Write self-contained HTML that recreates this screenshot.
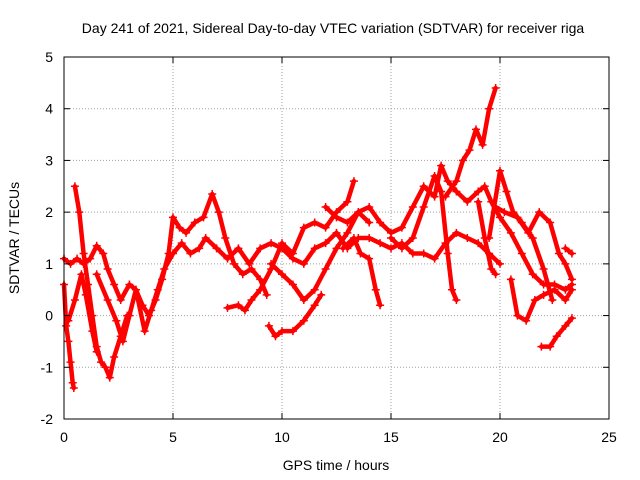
<!DOCTYPE html>
<html><head><meta charset="utf-8"><style>
body{margin:0;background:#fff;}
svg{display:block;font-family:"Liberation Sans",sans-serif;}
</style></head><body>
<svg id="chart" width="640" height="480" viewBox="0 0 640 480">
<text x="333" y="33" text-anchor="middle" font-size="14">Day 241 of 2021, Sidereal Day-to-day VTEC variation (SDTVAR) for receiver riga</text>
<text transform="translate(19,238) rotate(-90)" text-anchor="middle" font-size="14">SDTVAR / TECUs</text>
<text x="336" y="470" text-anchor="middle" font-size="14">GPS time / hours</text>
<g id="grid"></g>
<g id="series"></g>
<rect x="64" y="57" width="545" height="362" fill="none" stroke="#000" stroke-width="1"/>
<g id="ticks"></g>
</svg>
<script>
const xTicks=[0,5,10,15,20,25];
const yTicks=[-2,-1,0,1,2,3,4,5];
const track1=[[0,0.6],[0.1,-0.2],[0.2,-0.5],[0.3,-0.9],[0.4,-1.3],[0.45,-1.4]];
const track2=[[0,1.1],[0.3,1.0],[0.6,1.1],[0.9,1.0],[1.2,1.1],[1.5,1.35],[1.8,1.2],[2.0,0.9],[2.3,0.6],[2.6,0.3],[3.0,0.6],[3.3,0.5],[3.6,0.2],[3.9,0.0],[4.2,0.3],[4.5,0.7],[4.8,1.2],[5.0,1.9],[5.3,1.7],[5.6,1.6],[6.0,1.8],[6.4,1.9],[6.8,2.35],[7.1,2.0],[7.4,1.5],[7.8,1.0],[8.2,0.8],[8.6,0.9],[9.0,0.7],[9.3,0.4]];
const track3=[[0.5,2.5],[0.7,2.0],[0.9,1.2],[1.1,0.6],[1.3,0.0],[1.5,-0.6],[1.7,-0.9],[1.9,-1.0],[2.1,-1.2],[2.3,-0.8],[2.6,-0.4],[2.9,0.0]];
const track4=[[0.2,-0.1],[0.5,0.3],[0.8,0.8],[1.0,0.4],[1.3,-0.3],[1.5,-0.7]];
const track5=[[1.5,0.8],[2.0,0.3],[2.4,-0.1],[2.7,-0.5],[3.0,0.0],[3.3,0.5],[3.7,-0.3],[4.0,0.1],[4.3,0.5],[4.6,0.9],[5.0,1.2],[5.4,1.4],[5.8,1.2],[6.2,1.3],[6.5,1.5],[7.0,1.3],[7.5,1.1],[8.0,1.3],[8.5,1.0],[9.0,1.3],[9.5,1.4],[10,1.3],[10.5,1.1],[11,1.0],[11.5,1.3],[12,1.4],[12.5,1.6],[13,1.3],[13.5,1.5],[14,1.5],[14.5,1.4],[15,1.3],[15.5,1.4],[16,1.2],[16.5,1.2],[17,1.1],[17.5,1.4],[18,1.6],[18.5,1.5],[19,1.4],[19.5,1.2],[20,1.0]];
const track6=[[7.5,0.15],[8,0.2],[8.3,0.1],[8.6,0.3],[9,0.5],[9.5,0.9],[10,1.4],[10.5,1.2],[11,1.7],[11.5,1.8],[12,1.7],[12.5,2.0],[13,2.2],[13.3,2.6]];
const track7=[[9.4,-0.2],[9.7,-0.4],[10,-0.3],[10.5,-0.3],[11,-0.1],[11.5,0.2],[11.8,0.4]];
const track8=[[9.5,1.0],[10,0.8],[10.5,0.6],[11,0.3],[11.5,0.5],[12,0.9],[12.5,1.3],[13,1.6],[13.5,2.0],[14,2.1],[14.5,1.8],[15,1.6],[15.5,1.7],[16,2.1],[16.5,2.5],[17,2.3],[17.3,2.9],[17.6,2.6],[18,2.4],[18.5,2.2],[19,2.4],[19.3,2.5],[19.6,2.2],[20,1.9],[20.5,1.6],[21,1.2],[21.5,0.8],[22,0.6],[22.5,0.6],[23,0.5],[23.3,0.6]];
const track9=[[12.8,1.3],[13.3,1.5],[13.6,1.2],[14,1.1],[14.3,0.5],[14.5,0.2]];
const track10=[[15,1.5],[15.5,1.3],[16,1.5],[16.5,2.1],[17,2.7],[17.3,2.4],[17.6,1.2],[17.8,0.5],[18,0.3]];
const track11=[[17.5,2.3],[18,2.6],[18.3,3.0],[18.6,3.2],[18.9,3.6],[19.2,3.3],[19.5,4.0],[19.8,4.4]];
const track12=[[19,2.2],[19.3,1.5],[19.6,0.9],[19.8,0.8]];
const track13=[[19.5,1.5],[20,2.8],[20.3,2.4],[20.6,2.0],[21,1.8],[21.5,1.5],[22,0.9],[22.4,0.3]];
const track14=[[19.8,2.1],[20.2,2.0],[20.8,1.9],[21.3,1.6],[21.8,2.0],[22.3,1.8],[22.7,1.2],[23,1.0],[23.3,0.7]];
const track15=[[20.5,0.7],[20.8,0.0],[21.2,-0.1],[21.6,0.3],[22,0.4],[22.5,0.5],[23,0.3],[23.3,0.5]];
const track16=[[21.9,-0.6],[22.3,-0.6],[22.6,-0.4],[23,-0.2],[23.3,-0.05]];
const track17=[[23,1.3],[23.3,1.2]];
const track18=[[12,2.1],[12.5,1.9],[13,1.8],[13.5,2.0],[14,1.8]];
const tracks=[track1,track2,track3,track4,track5,track6,track7,track8,track9,track10,track11,track12,track13,track14,track15,track16,track17,track18];

const NS="http://www.w3.org/2000/svg";
const X0=64,X1=609,Y0=419,Y1=57;
function xs(t){return X0+(t-0)/(25-0)*(X1-X0);}
function ys(v){return Y0-(v+2)/(5+2)*(Y0-Y1);}
const grid=document.getElementById('grid'),ticks=document.getElementById('ticks'),ser=document.getElementById('series');
function mk(tag,attrs,parent){const e=document.createElementNS(NS,tag);for(const k in attrs)e.setAttribute(k,attrs[k]);parent.appendChild(e);return e;}
xTicks.forEach(t=>{
  const x=xs(t);
  if(t>0&&t<25){const g=mk('line',{x1:x,x2:x,y1:Y1,y2:Y0,stroke:'#a0a0a0','stroke-dasharray':'1,2'},grid);
  
  }
  mk('line',{x1:x,x2:x,y1:Y0,y2:Y0-6,stroke:'#000'},ticks);
  mk('line',{x1:x,x2:x,y1:Y1,y2:Y1+6,stroke:'#000'},ticks);
  const l=mk('text',{x:x,y:Y0+23,'text-anchor':'middle','font-size':'14'},ticks);l.textContent=t;
  
  
});
yTicks.forEach(v=>{
  const y=ys(v);
  if(v>-2&&v<5){const g=mk('line',{x1:X0,x2:X1,y1:y,y2:y,stroke:'#a0a0a0','stroke-dasharray':'1,2'},grid);
  
  }
  mk('line',{x1:X0,x2:X0+6,y1:y,y2:y,stroke:'#000'},ticks);
  mk('line',{x1:X1,x2:X1-6,y1:y,y2:y,stroke:'#000'},ticks);
  const l=mk('text',{x:X0-11,y:y+5,'text-anchor':'end','font-size':'14'},ticks);l.textContent=v;
  
  
});
tracks.forEach((tr,i)=>{
  const pts=tr.map(p=>xs(p[0]).toFixed(1)+','+ys(p[1]).toFixed(1)).join(' ');
  const pl=mk('polyline',{points:pts,fill:'none',stroke:'#ff0000','stroke-width':4.5,'stroke-linejoin':'round','stroke-linecap':'round'},ser);
  
  
  tr.forEach(p=>{
    const x=xs(p[0]),y=ys(p[1]);
    const m=mk('path',{d:`M${x-4},${y}H${x+4}M${x},${y-4}V${y+4}`,stroke:'#ff0000','stroke-width':1.5},ser);
    
    
  });
});
</script>
</body></html>
